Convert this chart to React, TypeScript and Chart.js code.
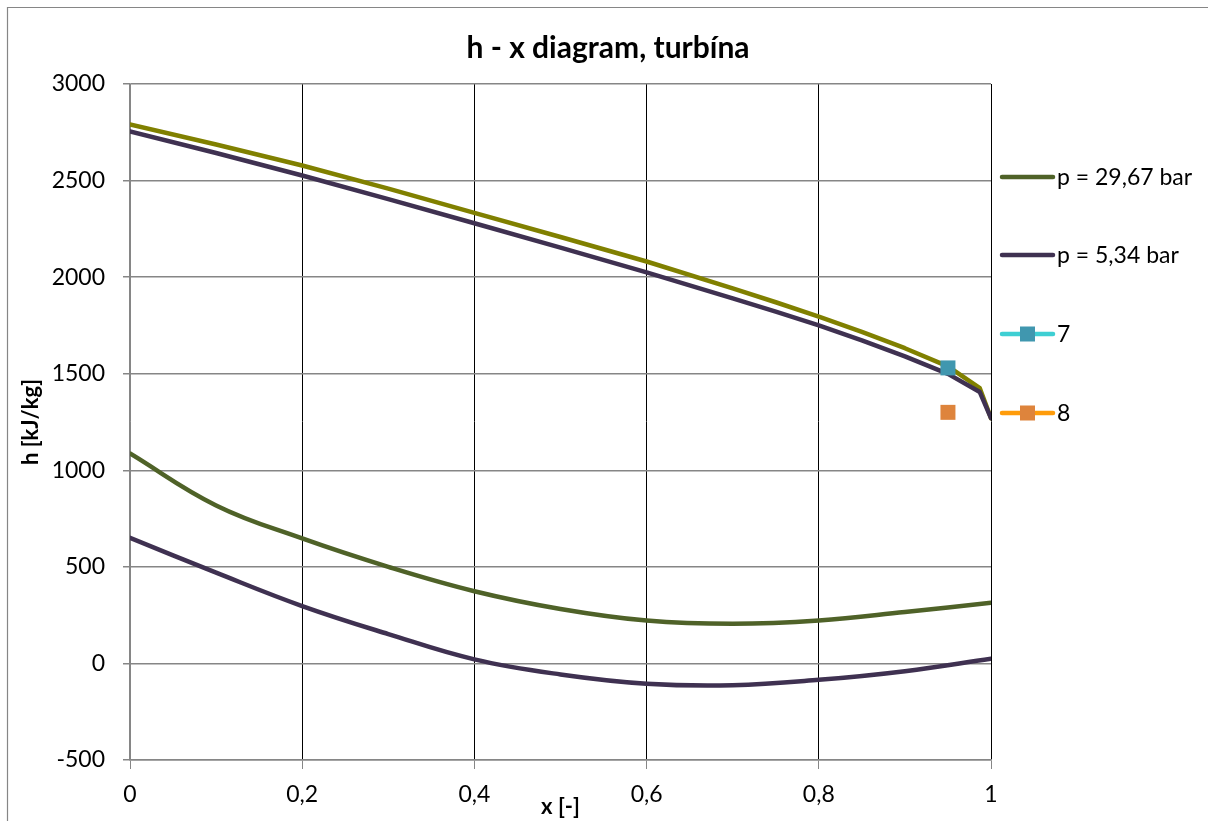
import { useEffect, useRef } from "react";
import { Chart, registerables } from "chart.js";

Chart.register(...registerables);

// ---- data ----
const qualityUpper = [0, 0.1, 0.2, 0.3, 0.4, 0.5, 0.6, 0.7, 0.75, 0.8, 0.85, 0.9, 0.95, 0.987, 1];
const hUpper2967 = [2790, 2687, 2578, 2458, 2333, 2208, 2081, 1942, 1870, 1795, 1717, 1632, 1538, 1425, 1270];
const hUpper534 = [2755, 2643, 2526, 2404, 2279, 2153, 2025, 1890, 1821, 1750, 1673, 1590, 1499, 1405, 1270];

const qualityLower2967 = [0, 0.1, 0.2, 0.3, 0.4, 0.5, 0.6, 0.7, 0.8, 0.9, 1];
const hLower2967 = [1087, 818, 647, 500, 374, 282, 222, 205, 222, 266, 314];
const qualityLower534 = [0, 0.1, 0.2, 0.3, 0.4, 0.5, 0.6, 0.7, 0.8, 0.9, 1];
const hLower534 = [650, 470, 297, 152, 21, -57, -105, -113, -85, -40, 24];

const pointNames = ["7", "8"];
const pointX = [0.95, 0.95];
const pointH = [1530, 1300];

const seriesNames = ["p = 29,67 bar", "p = 5,34 bar"];
const title = "h - x diagram, turbína";
const xTitle = "x [-]";
const yTitle = "h [kJ/kg]";

const FONT = "Lato, 'Open Sans', sans-serif";

const toXY = (xs: number[], ys: number[]) => xs.map((x, i) => ({ x, y: ys[i] }));

export default function App() {
  const ref = useRef<HTMLCanvasElement | null>(null);

  useEffect(() => {
    if (!ref.current) return;

    const legendEntries = [
      { ds: 0, text: seriesNames[0], y: 177 },
      { ds: 1, text: seriesNames[1], y: 255 },
      { ds: 4, text: pointNames[0], y: 334 },
      { ds: 5, text: pointNames[1], y: 413 },
    ];

    const framePlugin = {
      id: "frame",
      beforeDraw(chart: any) {
        const { ctx, width, height } = chart;
        ctx.save();
        ctx.fillStyle = "#ffffff";
        ctx.fillRect(0, 0, width, height);
        ctx.strokeStyle = "#868686";
        ctx.lineWidth = 1.2;
        ctx.beginPath();
        ctx.moveTo(7.5, height);
        ctx.lineTo(7.5, 7.5);
        ctx.lineTo(width, 7.5);
        ctx.stroke();
        ctx.restore();
      },
      afterDraw(chart: any) {
        const { ctx } = chart;
        ctx.save();
        for (const e of legendEntries) {
          const ds: any = chart.data.datasets[e.ds];
          ctx.strokeStyle = ds.legendLine || ds.borderColor;
          ctx.lineWidth = 4.5;
          ctx.lineCap = "round";
          ctx.beginPath();
          ctx.moveTo(1002, e.y);
          ctx.lineTo(1053, e.y);
          ctx.stroke();
          if (ds.pointRadius > 0) {
            ctx.fillStyle = ds.pointBackgroundColor;
            ctx.fillRect(1020, e.y - 7.5, 15, 15);
          }
          ctx.fillStyle = "#000000";
          ctx.font = `23px ${FONT}`;
          ctx.textAlign = "left";
          ctx.textBaseline = "middle";
          ctx.fillText(e.text, 1057, e.y + 1);
        }
        ctx.restore();
      },
    };

    const lineDs = (label: string, data: any[], color: string, order: number, tension: number) => ({
      label,
      data,
      borderColor: color,
      backgroundColor: color,
      borderWidth: 4.5,
      pointRadius: 0,
      pointHoverRadius: 0,
      showLine: true,
      fill: false,
      tension,
      borderCapStyle: "round",
      borderJoinStyle: "round",
      order,
    });

    const chart = new Chart(ref.current, {
      type: "scatter",
      data: {
        datasets: [
          lineDs(seriesNames[0], toXY(qualityLower2967, hLower2967), "#4F6228", 2, 0.4),
          lineDs(seriesNames[1], toXY(qualityLower534, hLower534), "#3F3151", 2, 0.4),
          lineDs("_upper2967", toXY(qualityUpper, hUpper2967), "#808000", 3, 0),
          lineDs("_upper534", toXY(qualityUpper, hUpper534), "#3F3151", 2, 0),
          {
            label: pointNames[0],
            data: [{ x: pointX[0], y: pointH[0] }],
            showLine: false,
            borderColor: "#4BC8CC",
            legendLine: "#3ECFD3",
            pointStyle: "rect",
            pointRadius: 10.6,
            pointBackgroundColor: "#4097AF",
            pointBorderColor: "#4097AF",
            pointBorderWidth: 0,
            order: 0,
          } as any,
          {
            label: pointNames[1],
            data: [{ x: pointX[1], y: pointH[1] }],
            showLine: false,
            borderColor: "#FF9C0A",
            legendLine: "#FF9C0A",
            pointStyle: "rect",
            pointRadius: 10.6,
            pointBackgroundColor: "#DE843C",
            pointBorderColor: "#DE843C",
            pointBorderWidth: 0,
            order: 0,
          } as any,
        ],
      },
      options: {
        animation: false,
        responsive: false,
        maintainAspectRatio: false,
        devicePixelRatio: 1,
        layout: { padding: { left: 8, top: 8, right: 0, bottom: 0 } },
        plugins: {
          legend: { display: false },
          tooltip: { enabled: false },
          title: {
            display: true,
            text: title,
            color: "#000000",
            font: { family: FONT, size: 30, weight: "bold", lineHeight: 1.2 },
            padding: { top: 22, bottom: 18 },
          },
        },
        scales: {
          x: {
            type: "linear",
            min: 0,
            max: 1,
            ticks: {
              stepSize: 0.2,
              color: "#000000",
              font: { family: FONT, size: 23 },
              padding: 12,
              maxRotation: 0,
              callback: (v: any) => String(Math.round(Number(v) * 10) / 10).replace(".", ","),
            },
            grid: {
              color: (c: any) => (c.tick && c.tick.value === 0 ? "#868686" : "#000000"),
              lineWidth: 1,
              tickColor: "#868686",
              tickLength: 9,
            },
            border: { display: true, color: "#868686", width: 1.5 },
            title: {
              display: true,
              text: xTitle,
              color: "#000000",
              font: { family: FONT, size: 22, weight: "bold", lineHeight: 1.2 },
              padding: { top: 0, bottom: 1 },
            },
            afterFit: (s: any) => {
              s.height = 61;
            },
          },
          y: {
            type: "linear",
            min: -500,
            max: 3000,
            ticks: {
              stepSize: 500,
              color: "#000000",
              font: { family: FONT, size: 23 },
              padding: 18,
              callback: (v: any) => String(v),
            },
            grid: {
              color: "#868686",
              lineWidth: 1.5,
              tickColor: "#868686",
              tickLength: 7,
            },
            border: { display: true, color: "#868686", width: 1.5 },
            title: {
              display: true,
              text: yTitle,
              color: "#000000",
              font: { family: FONT, size: 22, weight: "bold", lineHeight: 1.2 },
              padding: { top: 10, bottom: 0 },
            },
            afterFit: (s: any) => {
              s.width = 122;
            },
          },
          yRight: {
            type: "linear",
            position: "right",
            min: 0,
            max: 1,
            display: true,
            ticks: { display: false },
            grid: { display: false, drawTicks: false },
            border: { display: false },
            afterFit: (s: any) => {
              s.width = 217;
            },
          },
        },
      } as any,
      plugins: [framePlugin],
    });

    return () => chart.destroy();
  }, []);

  return (
    <div style={{ position: "fixed", left: 0, top: 0, width: 1208, height: 821, background: "#fff" }}>
      <canvas ref={ref} width={1208} height={821} style={{ display: "block", width: 1208, height: 821 }} />
    </div>
  );
}
